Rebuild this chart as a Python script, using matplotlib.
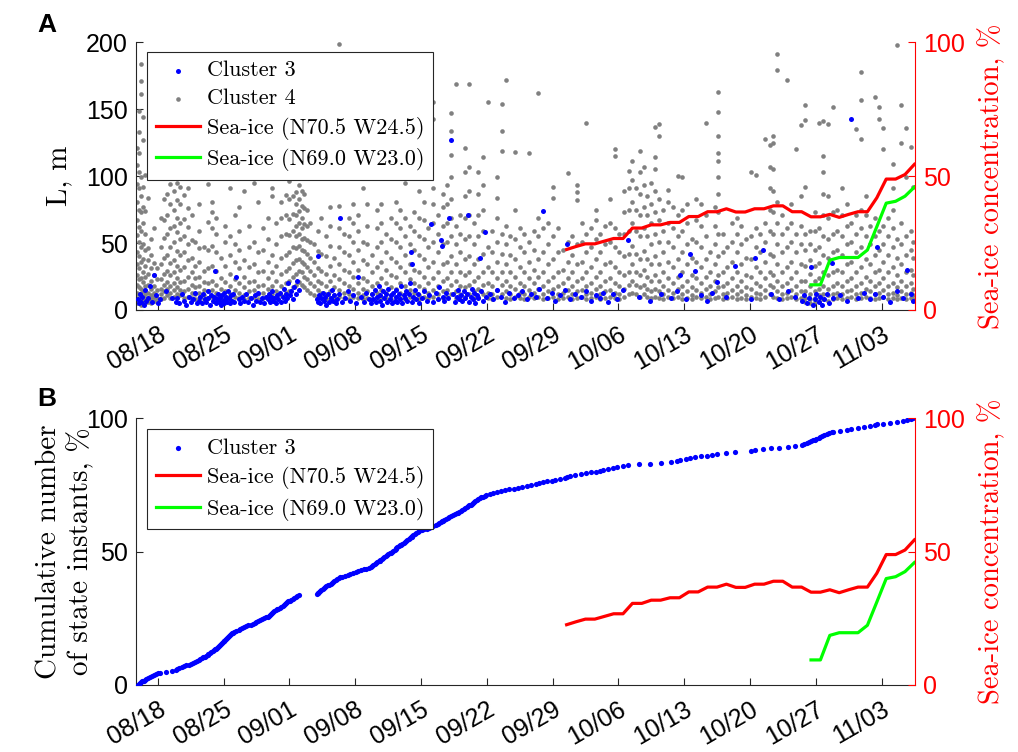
import numpy as np
import matplotlib.pyplot as plt

# time axis: days counted from 08/18
tick_days = [0, 7, 14, 21, 28, 35, 42, 49, 56, 63, 70, 77]
tick_labels = ['08/18', '08/25', '09/01', '09/08', '09/15', '09/22',
               '09/29', '10/06', '10/13', '10/20', '10/27', '11/03']

# sea-ice concentration, %
red_day = [43.5, 44.5, 45.5, 46.5, 47.5, 48.5, 49.5, 50.5, 51.5, 52.5,
           53.5, 54.5, 55.5, 56.5, 57.5, 58.5, 59.5, 60.5, 61.5, 62.5,
           63.5, 64.5, 65.5, 66.5, 67.5, 68.5, 69.5, 70.5, 71.5, 72.5,
           73.5, 74.5, 75.5, 76.5, 77.5, 78.5, 79.5, 80.5]
red_ice = [22.6, 23.7, 24.7, 24.7, 25.7, 26.7, 26.7, 30.6, 30.6, 31.8,
           31.8, 32.7, 32.7, 34.9, 34.9, 36.7, 36.7, 37.8, 36.6, 36.6,
           37.8, 37.8, 38.9, 38.9, 36.7, 36.7, 34.8, 34.8, 35.7, 34.6,
           35.7, 36.7, 36.7, 41.9, 48.9, 48.9, 50.6, 54.4]
green_day = [69.5, 70.5, 71.5, 72.5, 73.5, 74.5, 75.5, 76.5, 77.5, 78.5, 79.5, 80.5]
green_ice = [9.4, 9.4, 18.6, 19.6, 19.6, 19.6, 22.4, 31.1, 39.9, 40.6, 42.5, 45.9]

# cluster 3 state instants (day, L in m)
c3_day = [-2.1, -2.0, -1.9, -1.8, -1.7, -1.5, -1.4, -1.2, -1.0, -0.8, -0.6, -0.4, -0.2, 0.0, 0.2,
          0.9, 1.5,
          1.9, 2.1, 2.3, 2.6, 2.8, 3.0, 3.3, 3.5, 3.8, 4.0, 4.2,
          4.4, 4.5, 4.7, 4.8, 5.0, 5.1, 5.3, 5.4, 5.6, 5.7, 5.9, 6.0, 6.1, 6.2, 6.3,
          6.4, 6.5, 6.6, 6.7, 6.8, 6.9, 7.0, 7.1, 7.2, 7.3, 7.4, 7.5, 7.6, 7.7, 7.8, 7.9, 8.0, 8.1, 8.3,
          8.6, 8.8, 9.0, 9.2, 9.4, 9.6, 9.9, 10.1, 10.3, 10.5, 10.7, 10.9, 11.1, 11.3, 11.5,
          11.7, 11.8, 11.9, 12.0, 12.2, 12.3, 12.4, 12.6, 12.7, 12.8, 13.0, 13.1, 13.3, 13.4, 13.5,
          13.7, 13.8, 13.9, 14.1, 14.2, 14.4, 14.5, 14.7, 14.8, 15.0,
          16.9, 17.0, 17.1, 17.2, 17.3, 17.4, 17.6, 17.7, 17.8, 17.9, 18.1, 18.2, 18.4, 18.5,
          18.7, 18.8, 19.0, 19.1, 19.3, 19.4, 19.6,
          19.9, 20.2, 20.5, 20.8, 21.1, 21.3, 21.6, 21.9, 22.2, 22.5,
          22.7, 22.8, 22.9, 23.1, 23.2, 23.3, 23.5, 23.6, 23.7, 23.9, 24.0, 24.1, 24.3, 24.4,
          24.5, 24.7, 24.8, 24.9, 25.0,
          25.2, 25.3, 25.4, 25.5, 25.7, 25.8, 25.9, 26.0, 26.2, 26.3, 26.4, 26.5, 26.7, 26.8,
          26.9, 27.0, 27.1, 27.2, 27.4, 27.5, 27.7, 27.8,
          28.1, 28.3, 28.6, 28.9, 29.1, 29.3, 29.6, 29.8, 29.9,
          30.1, 30.2, 30.3, 30.5, 30.7, 30.9, 31.0, 31.2, 31.4, 31.6, 31.8, 31.9, 32.1,
          32.3, 32.4, 32.6, 32.7, 32.9, 33.0, 33.1, 33.3, 33.4, 33.5, 33.7, 33.8, 34.0, 34.1,
          34.3, 34.4, 34.6, 34.8, 34.9,
          35.3, 35.7, 36.1, 36.5, 36.9, 37.4, 37.9, 38.3,
          38.8, 39.3, 39.7, 40.2, 40.6, 41.0, 41.4, 41.9, 42.3, 42.8, 43.3, 43.5, 43.9, 44.4,
          45.0, 45.6, 46.1, 46.6, 47.1, 47.4, 47.9, 48.4, 48.9, 49.5,
          50.0, 51.2, 52.4, 53.5,
          54.6, 55.2, 55.6, 56.2, 56.6, 57.2, 57.8, 58.4, 59.0,
          59.5, 60.5, 61.4, 63.1, 63.5,
          64.4, 65.2, 66.1, 67.0, 67.8,
          68.5, 68.8, 69.1, 69.3, 69.5, 69.7, 69.9, 70.0,
          70.3, 70.5, 70.7, 70.9, 71.2, 71.4, 71.7, 71.8,
          72.6, 73.3, 73.8, 74.5, 75.1,
          75.8, 76.3, 76.5, 77.2, 77.9, 78.6,
          79.3, 79.7, 80.1, 80.4]
c3_L = [8, 5, 12, 6, 10, 4, 15, 7, 9, 18, 6, 26, 11, 5, 8,
        14, 9,
        6, 9, 5, 12, 7, 4, 10, 6, 8, 13, 5,
        7, 10, 5, 12, 8, 6, 14, 9, 4, 11, 7, 10, 29, 5, 8,
        12, 6, 9, 4, 11, 7, 13, 5, 8, 10, 6, 14, 9, 5, 11, 7, 12, 6, 25,
        8, 5, 10, 7, 12, 6, 9, 4, 11, 7, 13, 6, 9, 5, 10,
        8, 12, 6, 10, 14, 7, 9, 5, 11, 8, 13, 6, 10, 16, 7,
        12, 9, 20, 11, 14, 8, 17, 12, 22, 15,
        8, 40, 6, 11, 5, 9, 13, 7, 10, 4, 12, 6, 9, 15,
        7, 11, 5, 8, 12, 69, 6,
        9, 14, 7, 11, 5, 25, 10, 6, 13, 8,
        5, 12, 8, 15, 6, 10, 18, 7, 11, 4, 14, 9, 12, 6,
        16, 8, 11, 5, 13,
        7, 10, 15, 6, 12, 8, 18, 5, 11, 9, 14, 7, 12, 20,
        43, 34, 6, 10, 15, 8, 12, 5,
        9, 14, 7, 11, 64, 6, 13, 8, 17,
        52, 48, 10, 7, 13, 9, 69, 127, 12, 6, 10, 15, 8,
        11, 7, 14, 9, 12, 71, 6, 10, 16, 8, 13, 5, 11, 9,
        39, 14, 7, 58, 10,
        12, 8, 15, 10, 6, 13, 9, 11,
        14, 8, 12, 10, 16, 74, 9, 13, 7, 11, 15, 49, 8, 12,
        10, 14, 7, 11, 9, 13, 6, 12, 8, 15,
        52, 10, 7, 12,
        9, 14, 26, 8, 42, 29, 11, 7, 13,
        21, 10, 33, 8, 39,
        45, 12, 8, 14, 10,
        7, 11, 5, 9, 32, 4, 8, 12,
        6, 10, 4, 8, 12, 5, 35, 9,
        11, 7, 143, 9, 13,
        8, 12, 47, 10, 6, 14,
        9, 30, 12, 7]

# cluster 4 state instants: one time per streak, L values (m) at that time
c4_day = [-2.2, -2.0, -1.8, -1.6, -1.3, -1.0, -0.7, -0.4, -0.1,
          0.3, 0.7, 1.0, 1.3, 1.7, 2.0, 2.4, 2.8, 3.2, 3.6,
          4.0, 4.4, 4.9, 5.3, 5.8, 6.2, 6.7, 7.2, 7.7, 8.2,
          8.7, 9.2, 9.7, 10.2, 10.7, 11.2, 11.7, 12.2, 12.6, 13.1,
          13.6, 14.0, 14.4, 14.7, 15.0, 15.3, 15.6, 15.9, 16.2, 16.6,
          17.0, 17.4, 17.9, 18.3, 18.8, 19.3, 19.8, 20.3, 20.8, 21.3,
          21.8, 22.3, 22.8, 23.3, 23.8, 24.3, 24.8, 25.3, 25.8, 26.3,
          26.8, 27.3, 27.8, 28.3, 28.8, 29.3, 29.8, 30.3, 30.8, 31.2,
          31.7, 32.2, 32.7, 33.1, 33.6, 34.1, 34.6, 35.1, 35.6, 36.1,
          36.6, 37.0, 37.5, 38.0, 38.5, 39.0, 39.5, 40.0, 40.5, 41.0,
          41.5, 42.1, 42.6, 43.1, 43.6, 44.1, 44.6, 45.1, 45.6, 46.1,
          46.6, 47.1, 47.6, 48.1, 48.6, 49.1, 49.6, 50.1, 50.5, 50.9,
          51.3, 51.7, 52.1, 52.5, 52.9, 53.3, 53.8, 54.3, 54.8, 55.3,
          55.8, 56.3, 56.8, 57.3, 57.8, 58.3, 58.8, 59.3, 59.6, 60.1,
          60.6, 61.1, 61.6, 62.1, 62.6, 63.1, 63.6, 64.1, 64.6, 65.1,
          65.5, 65.9, 66.4, 66.9, 67.4, 67.9, 68.4, 68.9, 69.4, 69.9,
          70.3, 70.8, 71.3, 71.8, 72.3, 72.8, 73.3, 73.8, 74.3, 74.8,
          75.3, 75.8, 76.3, 76.7, 77.2, 77.7, 78.2, 78.6, 79.1, 79.6,
          80.1, 80.4]
c4_L = [
    [5, 9, 13, 19, 26, 34, 43, 56, 67, 81, 94, 108, 121],
    [7, 12, 17, 23, 31, 40, 51, 62, 75, 91, 103, 117, 133, 149],
    [4, 8, 11, 16, 24, 36, 47, 59, 73, 85, 99, 184, 171, 161],
    [6, 10, 14, 21, 28, 38, 49, 65, 77, 92, 127, 144],
    [5, 9, 12, 18, 25, 33, 45, 57, 74, 101],
    [6, 9, 13, 19, 27, 37, 46, 84],
    [5, 8, 11, 16, 22, 31, 41, 53],
    [7, 10, 13, 18, 26, 35, 61],
    [6, 9, 15, 23, 31],
    [8, 12, 16, 23, 34, 47, 69],
    [9, 14, 19, 27, 39, 54, 67, 83],
    [11, 16, 21, 29, 41, 57, 71, 87, 99],
    [9, 13, 18, 26, 35, 47, 61, 79, 94],
    [10, 15, 20, 28, 37, 51, 63, 75, 89, 103],
    [12, 17, 24, 33, 44, 58, 69, 82, 95],
    [11, 15, 21, 30, 41, 53, 65, 79, 92],
    [9, 14, 22, 32, 43, 55, 68, 86],
    [10, 16, 25, 37, 49, 62, 76, 91],
    [9, 13, 19, 28, 39, 52, 71],
    [8, 12, 17, 24, 33, 51],
    [9, 13, 18, 25, 36, 46, 59, 79],
    [8, 11, 15, 21, 29, 47],
    [9, 14, 20, 31, 45, 66, 94],
    [10, 15, 22, 33, 48, 61, 73, 81],
    [9, 13, 19, 29, 43, 57, 69],
    [8, 11, 16, 24, 39],
    [9, 14, 21, 33, 51, 63],
    [8, 12, 18, 27, 41, 55, 91],
    [10, 15, 23, 36, 49, 71],
    [9, 13, 20, 31, 45, 59, 77],
    [8, 11, 17, 25, 37, 89],
    [9, 14, 21, 32, 47, 63],
    [10, 15, 22, 34, 51, 95],
    [8, 12, 18, 28, 43, 81],
    [9, 13, 19, 29, 45, 61],
    [10, 16, 24, 36, 53, 69],
    [8, 12, 18, 28, 41, 85, 91],
    [9, 14, 22, 33, 49, 65],
    [11, 18, 27, 39, 55, 69, 81],
    [13, 20, 29, 41, 57, 71, 86],
    [14, 22, 31, 43, 56, 68, 83, 96],
    [17, 25, 35, 47, 59, 72, 85, 99],
    [19, 27, 37, 46, 55, 63, 71, 79, 88, 103],
    [21, 29, 38, 48, 57, 65, 74, 83, 93, 109],
    [19, 28, 36, 45, 53, 61, 69, 78, 89, 101],
    [17, 25, 34, 44, 54, 64, 76, 87],
    [15, 23, 32, 42, 52, 63, 75],
    [13, 20, 29, 39, 51, 65],
    [11, 18, 26, 36, 49],
    [10, 15, 22, 31, 44, 59],
    [9, 13, 20, 29, 42, 69],
    [8, 12, 18, 27, 40, 55],
    [9, 14, 22, 33, 48, 63, 77],
    [8, 11, 17, 26, 39],
    [10, 15, 23, 34, 47, 61, 78, 199],
    [9, 13, 20, 30, 43, 57],
    [8, 12, 18, 28, 41, 55, 69],
    [10, 16, 25, 36, 51, 65, 79],
    [9, 13, 20, 30, 45, 59, 71],
    [8, 11, 16, 24, 37, 51, 91],
    [9, 14, 22, 34, 49, 63, 79],
    [8, 12, 18, 28, 41],
    [9, 13, 20, 32, 47, 61, 75],
    [10, 15, 24, 36, 51, 65, 79],
    [9, 13, 20, 30, 43, 57],
    [8, 11, 17, 26, 39, 53, 69],
    [10, 16, 25, 36, 51, 65, 81],
    [9, 13, 20, 32, 47, 61, 75],
    [8, 12, 18, 28, 41, 55, 69, 95],
    [10, 15, 23, 34, 49, 63],
    [9, 13, 20, 30, 45, 59, 73],
    [8, 11, 18, 28, 41, 55, 69, 89],
    [10, 16, 25, 38, 53, 67, 81],
    [9, 13, 20, 32, 47, 61],
    [10, 15, 24, 36, 51, 65, 79, 91, 143, 155],
    [8, 12, 18, 28, 43, 57, 71],
    [9, 14, 22, 34, 49, 63, 77, 87],
    [10, 15, 24, 36, 51, 65, 79, 93],
    [12, 19, 28, 40, 55, 69, 83, 99, 116, 134, 147],
    [9, 14, 22, 34, 49, 63, 169],
    [8, 12, 18, 28, 43, 57, 71],
    [10, 17, 26, 38, 53, 69, 85, 103, 121],
    [12, 19, 28, 40, 55, 71, 89, 107, 169],
    [9, 14, 22, 34, 49, 65],
    [10, 16, 25, 38, 55, 71, 87, 103],
    [12, 19, 28, 42, 59, 75, 93, 114],
    [9, 13, 20, 32, 47, 155],
    [8, 12, 18, 28, 43, 59],
    [10, 15, 24, 36, 51, 69, 84, 99],
    [12, 19, 28, 42, 57, 119, 134, 154],
    [9, 14, 22, 34, 49, 63, 172],
    [8, 12, 18, 28, 41, 55],
    [10, 16, 25, 38, 53, 75, 118],
    [9, 13, 20, 32, 47, 61],
    [8, 12, 18, 28, 43, 57],
    [10, 15, 24, 36, 51, 117],
    [9, 13, 20, 30, 45, 59],
    [10, 16, 25, 38, 55, 69, 162],
    [8, 12, 18, 28, 43, 61],
    [9, 14, 22, 34, 49, 65],
    [10, 16, 25, 38, 55, 84, 92],
    [8, 12, 18, 28, 43, 61],
    [9, 13, 20, 30, 45],
    [10, 15, 24, 36, 51, 102],
    [8, 12, 18, 28, 41, 55],
    [9, 14, 22, 34, 49, 82, 88, 93],
    [10, 15, 24, 36, 51, 65],
    [8, 12, 18, 28, 43, 57, 140],
    [9, 13, 20, 32, 47, 61],
    [10, 16, 25, 38, 53, 67, 75],
    [8, 12, 18, 28, 43, 57],
    [9, 14, 22, 34, 49, 63],
    [10, 15, 24, 36, 51, 65, 83],
    [9, 13, 20, 32, 47, 61, 115, 120],
    [8, 12, 18, 28, 43, 57],
    [10, 16, 26, 40, 57, 73, 89],
    [12, 19, 28, 42, 59, 75, 91, 104],
    [13, 22, 34, 48, 65, 81, 97, 111],
    [12, 19, 28, 42, 59, 75, 91],
    [10, 17, 26, 38, 55, 71, 87, 103, 119],
    [12, 19, 30, 44, 61, 77, 93, 107],
    [10, 16, 25, 38, 55, 71, 85],
    [9, 14, 22, 34, 49, 65, 79, 95],
    [10, 16, 26, 40, 57, 73, 89, 105, 114, 137],
    [9, 14, 22, 34, 51, 67, 83, 130, 139],
    [8, 12, 18, 28, 43, 59, 75],
    [10, 15, 24, 36, 51, 65, 81, 90],
    [9, 13, 20, 32, 47, 61, 77],
    [10, 16, 25, 38, 55, 71, 100],
    [8, 12, 18, 28, 43, 59, 75, 99],
    [9, 14, 22, 34, 49, 65, 79],
    [8, 11, 17, 26, 39, 53],
    [10, 15, 24, 36, 51, 67, 83],
    [9, 13, 20, 32, 47, 63, 79],
    [10, 16, 25, 38, 55, 71, 140],
    [8, 12, 18, 28, 43],
    [9, 14, 22, 34, 49, 63, 77],
    [10, 17, 26, 40, 57, 73, 87, 99, 111, 117, 130, 148, 163],
    [8, 12, 18, 28, 43, 57],
    [9, 13, 20, 32, 47],
    [10, 15, 24, 36, 51, 65],
    [8, 12, 18, 28, 43, 57, 69],
    [9, 14, 22, 34, 49, 63],
    [8, 11, 17, 26, 39, 53],
    [10, 16, 25, 38, 55, 103],
    [9, 13, 20, 32, 47, 61, 101],
    [8, 12, 18, 28, 43, 57],
    [10, 15, 24, 36, 51, 65, 128],
    [12, 19, 28, 42, 59, 75, 91, 107, 123],
    [10, 17, 26, 40, 57, 73, 89, 105, 125, 130],
    [9, 14, 22, 34, 49, 65, 81, 179, 191],
    [8, 12, 18, 28, 43, 57, 71],
    [9, 13, 20, 32, 47, 61, 172],
    [10, 15, 24, 36, 51, 65, 79],
    [8, 12, 18, 28, 43, 57, 120],
    [9, 14, 22, 34, 49, 63, 85, 138],
    [6, 9, 14, 22, 33, 45, 57, 92, 142, 153],
    [5, 8, 12, 18, 27, 37, 49, 59],
    [6, 9, 14, 22, 33, 45, 59, 73],
    [7, 11, 16, 24, 35, 47, 61, 140],
    [8, 12, 18, 28, 41, 55, 71, 87, 103, 115, 141],
    [7, 11, 16, 26, 39, 53, 69, 85, 139],
    [8, 12, 18, 28, 43, 57, 73, 152],
    [9, 13, 20, 30, 45, 59, 75],
    [8, 12, 18, 28, 41, 55, 71, 91],
    [9, 14, 22, 34, 49, 63, 79],
    [10, 15, 24, 36, 51, 65],
    [8, 12, 18, 28, 43, 57, 71, 135],
    [9, 13, 20, 32, 47, 61, 75, 128, 157, 178],
    [10, 16, 25, 38, 55, 71, 85],
    [9, 14, 22, 34, 49, 63],
    [8, 12, 18, 28, 41, 55, 69, 159],
    [9, 13, 20, 30, 45, 59, 143, 152],
    [10, 15, 24, 36, 49, 63, 120, 136],
    [8, 12, 18, 28, 41, 55, 69],
    [9, 13, 20, 32, 47, 61, 75, 91, 109],
    [8, 11, 17, 26, 39, 53, 198],
    [9, 14, 22, 34, 49, 65, 125, 153],
    [8, 12, 18, 28, 41, 55, 99, 136],
    [9, 13, 20, 30, 45, 59, 122],
    [8, 11, 16, 26, 39, 51, 92],
]
assert len(c4_day) == len(c4_L)
assert len(c3_day) == len(c3_L)

SERIF = ['cmr10', 'DejaVu Serif']
SANS = ['Liberation Sans', 'DejaVu Sans']
DARK = '#262626'
GRAY = '#808080'

plt.rcParams['font.family'] = SANS
plt.rcParams['axes.unicode_minus'] = False

c4_x = np.concatenate([[d] * len(v) for d, v in zip(c4_day, c4_L)])
c4_y = np.concatenate(c4_L)

# cumulative number of cluster 3 instants
c3_sorted = np.sort(np.array(c3_day))
c3_cum = np.arange(len(c3_sorted)) / (len(c3_sorted) - 1) * 100


def setup(ax, ymax, yticks, ylabel, pad):
    ax.set_xlim(-2.31, 80.56)
    ax.set_ylim(0, ymax)
    ax.set_yticks(yticks)
    ax.set_xticks(tick_days)
    ax.set_xticklabels(tick_labels, rotation=30, ha='right', va='top',
                       rotation_mode='anchor')
    ax.tick_params(direction='in', length=5, width=0.8, labelsize=18,
                   colors=DARK, labelcolor='black', pad=6)
    ax.tick_params(axis='x', pad=9)
    for s in ['top', 'right']:
        ax.spines[s].set_visible(False)
    for s in ['left', 'bottom']:
        ax.spines[s].set_color(DARK)
        ax.spines[s].set_linewidth(0.8)
    ax.set_ylabel(ylabel, family=SERIF, fontsize=21, labelpad=pad)

    axr = ax.twinx()
    axr.set_ylim(0, 100)
    axr.set_yticks([0, 50, 100])
    axr.tick_params(axis='y', direction='in', length=5, width=0.8,
                    colors='red', labelsize=18, pad=6)
    for s in ['top', 'left', 'bottom']:
        axr.spines[s].set_visible(False)
    axr.spines['right'].set_color('red')
    axr.spines['right'].set_linewidth(0.8)
    axr.set_ylabel('Sea-ice concentration, %', family=SERIF, fontsize=20.5,
                   color='red', labelpad=9)
    return axr


fig = plt.figure(figsize=(10.18, 7.52), dpi=100)
axA = fig.add_axes([0.1336, 0.5878, 0.7652, 0.356])
axB = fig.add_axes([0.1336, 0.0891, 0.7652, 0.3547])

legend_kw = dict(loc='upper left', borderaxespad=0,
                 prop={'family': SERIF, 'size': 16}, fancybox=False,
                 edgecolor=DARK, framealpha=1, handlelength=2.0,
                 handletextpad=0.3, labelspacing=0.38, borderpad=0.4,
                 scatterpoints=1)

# panel A
axA_r = setup(axA, 200, [0, 50, 100, 150, 200], 'L, m', 10)
h4 = axA.scatter(c4_x, c4_y, s=11, color=GRAY, linewidths=0, zorder=2)
h3 = axA.scatter(c3_day, c3_L, s=13, color='blue', linewidths=0, zorder=3)
hr, = axA_r.plot(red_day, red_ice, color='red', lw=2.3)
hg, = axA_r.plot(green_day, green_ice, color='#00ff00', lw=2.3)
leg = axA_r.legend([h3, h4, hr, hg],
                   ['Cluster 3', 'Cluster 4', 'Sea-ice (N70.5 W24.5)',
                    'Sea-ice (N69.0 W23.0)'],
                   bbox_to_anchor=(0.014, 0.964), **legend_kw)
leg.get_frame().set_linewidth(0.8)

# panel B
axB_r = setup(axB, 100, [0, 50, 100], 'Cumulative number\nof state instants, %', -6)
hb = axB.scatter(c3_sorted, c3_cum, s=14, color='blue', linewidths=0, zorder=3)
hr2, = axB_r.plot(red_day, red_ice, color='red', lw=2.3)
hg2, = axB_r.plot(green_day, green_ice, color='#00ff00', lw=2.3)
leg2 = axB_r.legend([hb, hr2, hg2],
                    ['Cluster 3', 'Sea-ice (N70.5 W24.5)', 'Sea-ice (N69.0 W23.0)'],
                    bbox_to_anchor=(0.014, 0.959), **legend_kw)
leg2.get_frame().set_linewidth(0.8)

fig.text(37 / 1018, 1 - 32 / 752, 'A', fontsize=19, fontweight='bold', family=SANS)
fig.text(37 / 1018, 1 - 406 / 752, 'B', fontsize=19, fontweight='bold', family=SANS)

fig.savefig('out.png', dpi=100)
